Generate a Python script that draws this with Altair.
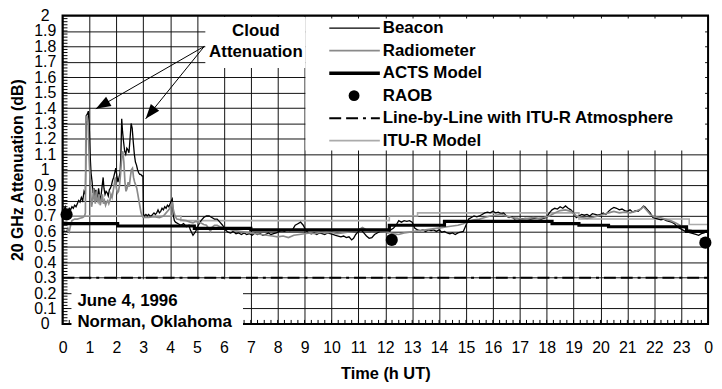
import math
import altair as alt
import pandas as pd

# ---------------- data ----------------
beacon_t = [0.00, 0.05, 0.10, 0.15, 0.20, 0.25, 0.30, 0.35, 0.40, 0.45, 0.50, 0.55, 0.60, 0.65, 0.70, 0.75, 0.80, 0.85,
            0.88, 0.92, 0.96, 1.00, 1.03, 1.06, 1.10, 1.13, 1.17, 1.20, 1.24, 1.27, 1.30, 1.34, 1.37, 1.40, 1.43, 1.47,
            1.51, 1.54, 1.58, 1.62, 1.66, 1.70, 1.74, 1.78, 1.82, 1.86, 1.90, 1.94, 1.98, 2.02, 2.06, 2.10, 2.14, 2.17,
            2.20, 2.23, 2.27, 2.31, 2.35, 2.39, 2.43, 2.47, 2.51, 2.55, 2.59, 2.63, 2.67, 2.71, 2.75, 2.79, 2.83, 2.87,
            2.91, 2.95, 2.99, 3.01, 3.05, 3.10, 3.15, 3.20, 3.25, 3.30, 3.35, 3.40, 3.45, 3.50, 3.55, 3.60, 3.65, 3.70,
            3.75, 3.80, 3.85, 3.90, 3.95, 4.00, 4.05, 4.08, 4.12, 4.16, 4.20, 4.30, 4.40, 4.50, 4.60, 4.70, 4.75, 4.85,
            4.95, 5.05, 5.15, 5.25, 5.35, 5.45, 5.55, 5.65, 5.75, 5.85, 5.95, 6.05, 6.15, 6.25, 6.35, 6.45, 6.55, 6.65,
            6.75, 6.85, 6.95, 7.05, 7.15, 7.25, 7.35, 7.45, 7.55, 7.65, 7.75, 7.85, 7.95, 8.05, 8.15, 8.25, 8.35, 8.45,
            8.55, 8.65, 8.75, 8.85, 8.95, 9.05, 9.15, 9.25, 9.35, 9.45, 9.55, 9.65, 9.75, 9.85, 9.95, 10.05, 10.15,
            10.25, 10.35, 10.45, 10.55, 10.65, 10.75, 10.82, 10.90, 11.00, 11.10, 11.20, 11.30, 11.40, 11.50, 11.60,
            11.70, 11.80, 11.90, 12.00, 12.10, 12.20, 12.30, 12.40, 12.50, 12.60, 12.70, 12.80, 12.90, 13.00, 13.10,
            13.20, 13.30, 13.40, 13.50, 13.60, 13.70, 13.80, 13.90, 14.00, 14.10, 14.20, 14.30, 14.40, 14.50, 14.60,
            14.70, 14.80, 14.90, 15.00, 15.10, 15.20, 15.30, 15.40, 15.50, 15.60, 15.70, 15.80, 15.90, 16.00, 16.10,
            16.20, 16.30, 16.40, 16.50, 16.60, 16.70, 16.80, 16.90, 17.00, 17.20, 17.40, 17.60, 17.80, 18.00, 18.10,
            18.20, 18.30, 18.40, 18.50, 18.60, 18.70, 18.80, 18.90, 19.00, 19.10, 19.20, 19.30, 19.40, 19.50, 19.60,
            19.70, 19.80, 19.90, 20.00, 20.10, 20.20, 20.30, 20.40, 20.50, 20.60, 20.70, 20.80, 20.90, 21.00, 21.10,
            21.20, 21.30, 21.40, 21.50, 21.60, 21.65, 21.75, 21.85, 21.95, 22.05, 22.15, 22.25, 22.35, 22.45, 22.55,
            22.65, 22.75, 22.85, 22.95, 23.05, 23.15, 23.25, 23.35, 23.45, 23.55, 23.65, 23.75, 23.85, 23.95, 24.00]
beacon_v = [0.71, 0.74, 0.76, 0.72, 0.73, 0.75, 0.74, 0.76, 0.75, 0.77, 0.76, 0.78, 0.80, 0.79, 0.82, 0.80, 0.86, 0.84,
            1.35, 1.36, 1.38, 1.25, 1.08, 0.98, 0.92, 0.85, 0.88, 0.83, 0.87, 0.80, 0.82, 0.88, 0.84, 0.80, 0.83, 0.89,
            0.95, 0.88, 0.84, 0.86, 0.85, 0.83, 0.87, 0.88, 0.90, 0.93, 0.95, 0.98, 1.01, 0.96, 0.92, 0.95, 0.98, 1.10,
            1.33, 1.25, 1.18, 1.12, 1.10, 1.14, 1.13, 1.11, 1.20, 1.30, 1.27, 1.18, 1.10, 1.05, 1.03, 1.00, 0.98, 0.97,
            0.97, 0.96, 0.96, 0.71, 0.70, 0.71, 0.70, 0.71, 0.70, 0.70, 0.71, 0.72, 0.71, 0.72, 0.74, 0.72, 0.73, 0.75,
            0.74, 0.76, 0.75, 0.77, 0.76, 0.78, 0.80, 0.81, 0.70, 0.67, 0.66, 0.65, 0.64, 0.65, 0.63, 0.64, 0.61, 0.575,
            0.60, 0.64, 0.67, 0.69, 0.70, 0.70, 0.69, 0.68, 0.68, 0.66, 0.64, 0.61, 0.595, 0.59, 0.60, 0.585, 0.59, 0.58,
            0.59, 0.58, 0.585, 0.575, 0.59, 0.58, 0.585, 0.575, 0.58, 0.59, 0.58, 0.585, 0.59, 0.60, 0.605, 0.60, 0.61,
            0.605, 0.61, 0.64, 0.65, 0.66, 0.64, 0.605, 0.59, 0.585, 0.59, 0.58, 0.59, 0.585, 0.58, 0.59, 0.585, 0.58,
            0.575, 0.57, 0.565, 0.57, 0.56, 0.565, 0.545, 0.555, 0.58, 0.60, 0.61, 0.59, 0.57, 0.555, 0.56, 0.58,
            0.59, 0.60, 0.605, 0.60, 0.59, 0.61, 0.62, 0.64, 0.67, 0.66, 0.67, 0.665, 0.67, 0.66, 0.62,
            0.61, 0.605, 0.61, 0.60, 0.61, 0.605, 0.61, 0.60, 0.61, 0.595, 0.60, 0.59, 0.585, 0.59, 0.58,
            0.59, 0.595, 0.60, 0.64, 0.68, 0.69, 0.70, 0.695, 0.70, 0.71, 0.72, 0.725, 0.72, 0.73, 0.72,
            0.725, 0.715, 0.72, 0.70, 0.69, 0.695, 0.68, 0.685, 0.68, 0.685, 0.68, 0.685, 0.68, 0.69, 0.72,
            0.74, 0.75, 0.745, 0.76, 0.75, 0.765, 0.75, 0.74, 0.72, 0.69, 0.70, 0.71, 0.705, 0.71, 0.70,
            0.715, 0.71, 0.705, 0.71, 0.72, 0.71, 0.73, 0.745, 0.755, 0.75, 0.74, 0.745, 0.735, 0.73, 0.74,
            0.725, 0.735, 0.73, 0.745, 0.765, 0.76, 0.74, 0.72, 0.69, 0.685, 0.68, 0.675, 0.68, 0.67, 0.665,
            0.66, 0.65, 0.63, 0.62, 0.61, 0.60, 0.595, 0.59, 0.585, 0.58, 0.575, 0.585, 0.59, 0.60, 0.605]

radio_t = [0.00, 0.05, 0.10, 0.15, 0.20, 0.25, 0.30, 0.35, 0.45, 0.55, 0.65, 0.75, 0.82, 0.85, 0.87, 0.91, 0.95, 0.99,
           1.02, 1.05, 1.08, 1.12, 1.15, 1.18, 1.22, 1.25, 1.29, 1.32, 1.36, 1.40, 1.44, 1.48, 1.52, 1.56, 1.60, 1.64,
           1.68, 1.72, 1.76, 1.80, 1.84, 1.88, 1.92, 1.96, 2.00, 2.04, 2.08, 2.12, 2.16, 2.20, 2.24, 2.28, 2.32, 2.36,
           2.40, 2.44, 2.48, 2.52, 2.56, 2.60, 2.64, 2.68, 2.72, 2.76, 2.80, 2.84, 2.88, 2.92, 2.96, 3.00, 3.20, 3.40,
           3.60, 3.75, 3.85, 3.95, 4.02, 4.08, 4.12, 4.18, 4.25, 4.40, 4.60, 4.75, 4.85, 4.95, 5.05, 5.15, 5.25, 5.35,
           5.45, 5.50, 5.55, 5.65, 5.75, 5.85, 5.95, 6.05, 6.20, 6.40, 6.60, 6.80, 7.00, 7.20, 7.40, 7.60, 7.80, 8.00,
           8.20, 8.40, 8.60, 8.80, 9.00, 9.20, 9.40, 9.60, 9.80, 10.00, 10.20, 10.40, 10.60, 10.80, 11.00, 11.15,
           11.30, 11.50, 11.70, 11.90, 12.10, 12.30, 12.50, 12.70, 12.90, 13.10, 13.30, 13.50, 13.70, 13.90, 14.10,
           14.30, 14.50, 14.70, 14.90, 15.10, 15.30, 15.50, 15.70, 15.90, 16.10, 16.30, 16.50, 16.70, 16.90, 17.10,
           17.30, 17.50, 17.70, 17.90, 18.10, 18.30, 18.50, 18.70, 18.90, 19.10, 19.30, 19.50, 19.70, 19.90, 20.10,
           20.30, 20.50, 20.70, 20.90, 21.10, 21.30, 21.50, 21.60, 21.70, 21.85, 22.00, 22.20, 22.40, 22.60, 22.80,
           23.00, 23.20, 23.40, 23.60, 23.80, 24.00]
radio_v = [0.63, 0.61, 0.59, 0.60, 0.62, 0.60, 0.64, 0.67, 0.68, 0.68, 0.685, 0.69, 0.70, 0.72, 1.33, 1.35, 1.30, 1.07,
           0.95, 0.84, 0.76, 0.80, 0.88, 0.82, 0.78, 0.86, 0.80, 0.79, 0.84, 0.77, 0.80, 0.84, 0.78, 0.80, 0.77, 0.79,
           0.80, 0.78, 0.80, 0.84, 0.82, 0.86, 0.90, 0.95, 0.88, 0.85, 0.86, 0.90, 0.98, 1.08, 1.12, 1.05, 0.92, 0.86,
           0.88, 0.92, 0.89, 0.95, 1.00, 1.01, 0.95, 0.92, 0.90, 0.88, 0.84, 0.80, 0.76, 0.72, 0.70, 0.69, 0.69, 0.695,
           0.69, 0.70, 0.72, 0.74, 0.76, 0.79, 0.74, 0.70, 0.68, 0.675, 0.67, 0.66, 0.655, 0.665, 0.66, 0.655, 0.645, 0.64,
           0.615, 0.60, 0.625, 0.64, 0.64, 0.63, 0.625, 0.62, 0.615, 0.605, 0.60, 0.595, 0.59, 0.585, 0.58, 0.575, 0.57, 0.565,
           0.57, 0.56, 0.575, 0.58, 0.585, 0.59, 0.585, 0.595, 0.59, 0.595, 0.585, 0.59, 0.595, 0.60, 0.61, 0.625,
           0.61, 0.60, 0.605, 0.60, 0.595, 0.585, 0.58, 0.59, 0.595, 0.60, 0.605, 0.61, 0.615, 0.62, 0.625,
           0.63, 0.635, 0.64, 0.65, 0.665, 0.675, 0.68, 0.69, 0.70, 0.705, 0.71, 0.70, 0.69, 0.685, 0.68,
           0.685, 0.69, 0.685, 0.69, 0.70, 0.72, 0.735, 0.74, 0.73, 0.70, 0.69, 0.685, 0.69, 0.70, 0.71,
           0.72, 0.73, 0.72, 0.725, 0.72, 0.73, 0.745, 0.76, 0.74, 0.71, 0.695, 0.69, 0.68, 0.67, 0.655,
           0.635, 0.615, 0.605, 0.60, 0.595, 0.60]

acts_t = [0, 2.05, 4.9, 7.0, 12.15, 14.2, 18.2, 19.2, 20.3, 23.2, 24]
acts_v = [0.65, 0.635, 0.62, 0.61, 0.64, 0.665, 0.65, 0.64, 0.63, 0.60, 0.60]

itu_t = [0, 4.4, 12.15, 13.2, 19.2, 23.3, 24]
itu_v = [0.70, 0.67, 0.70, 0.72, 0.68, 0.645, 0.645]

raob_t = [0.15, 12.24, 23.9]
raob_v = [0.71, 0.545, 0.527]

lbl_t = [0, 24]
lbl_v = [0.30, 0.30]

x_ticks = list(range(25))
y_ticks = [round(i * 0.1, 1) for i in range(21)]
x_minor = [i * 0.25 for i in range(97)]
y_minor = [round(i * 0.02, 2) for i in range(101)]

legend_labels = ["Beacon", "Radiometer", "ACTS Model", "RAOB",
                 "Line-by-Line with ITU-R Atmosphere", "ITU-R Model"]
note_lines = ["Cloud", "Attenuation"]
site_lines = ["June 4, 1996", "Norman, Oklahoma"]
arrow_from = (5.27, 1.80)
arrow_tips = [(1.24, 1.395), (3.09, 1.33)]

# ---------------- layout ----------------
TOP = 6
W, H = 651, 311
FONT = "Liberation Sans"
XS = alt.Scale(domain=[0, 24], nice=False, zero=False)
YS = alt.Scale(domain=[0, 2], nice=False, zero=False)
px_per_h = W / 24.0
px_per_v = H / 2.0
X_TITLE = "Time (h UT)"
Y_TITLE = "20 GHz Attenuation (dB)"


def ry(abs_y):
    # page pixel row -> plot-relative row
    return abs_y - 8 - TOP


AX = alt.Axis(values=x_ticks, grid=True, gridColor="#111", gridWidth=1, gridOpacity=1,
              domain=False, ticks=False, tickSize=0, labelPadding=24, labelBaseline="middle",
              labelExpr="'' + (datum.value % 24)", labelFlush=False, labelOverlap=False,
              labelFontSize=16, labelFont=FONT, labelColor="black",
              titleFont=FONT, titleFontSize=16.5, titleFontWeight="bold", titleColor="black",
              titleX=W / 2, titleY=50, titleBaseline="middle", titleAnchor="middle")
AY = alt.Axis(values=y_ticks, grid=True, gridColor="#111", gridWidth=1, gridOpacity=1,
              domain=False, ticks=False, tickSize=0, labelPadding=18, labelAlign="center",
              labelBaseline="middle", format=".1~f", labelFlush=False, labelOverlap=False,
              labelFontSize=16, labelFont=FONT, labelColor="black",
              titleFont=FONT, titleFontSize=16, titleFontWeight="bold", titleColor="black",
              titleX=-45, titleY=H / 2, titleBaseline="middle", titleAlign="center",
              titleAngle=270)


def X(f="t"):
    return alt.X(f + ":Q", scale=XS, axis=AX, title=X_TITLE)


def Y(f="v"):
    return alt.Y(f + ":Q", scale=YS, axis=AY, title=Y_TITLE)


def line_df(t, v):
    return pd.DataFrame({"t": t, "v": v})


one = pd.DataFrame({"k": [0]})

itu = alt.Chart(line_df(itu_t, itu_v)).mark_line(color="#ababab", strokeWidth=1.6,
                                                 interpolate="step-after").encode(x=X(), y=Y())
beacon = alt.Chart(line_df(beacon_t, beacon_v)).mark_line(color="black", strokeWidth=1.3).encode(x=X(), y=Y())
radio = alt.Chart(line_df(radio_t, radio_v)).mark_line(color="#8a8a8a", strokeWidth=1.7).encode(x=X(), y=Y())
acts = alt.Chart(line_df(acts_t, acts_v)).mark_line(color="black", strokeWidth=3.2,
                                                    interpolate="step-after").encode(x=X(), y=Y())
lbl = alt.Chart(line_df(lbl_t, lbl_v)).mark_line(color="black", strokeWidth=2,
                                                 strokeDash=[12, 5, 12, 5, 3, 5]).encode(x=X(), y=Y())
raob = alt.Chart(line_df(raob_t, raob_v)).mark_circle(color="black", size=150, opacity=1).encode(x=X(), y=Y())

xminor = alt.Chart(pd.DataFrame({"t": x_minor})).mark_rule(color="black", strokeWidth=1).encode(
    x=X(), y=alt.value(H), y2=alt.value(H - 4))

frame = alt.Chart(one).mark_rect(fill="white", fillOpacity=0, stroke="black", strokeWidth=2).encode(
    x=alt.value(0), x2=alt.value(W), y=alt.value(0), y2=alt.value(H))


def box(x0, x1, y0, y1):
    return alt.Chart(one).mark_rect(fill="white", strokeWidth=0).encode(
        x=alt.value(x0), x2=alt.value(x1), y=alt.value(y0), y2=alt.value(y1))


cloud_box = box(144, 245, 1.5, ry(67))
legend_box = box(245, W - 3, 3, ry(150))
site_box = box(9, 182, ry(280), H + 3)

yminor = alt.Chart(pd.DataFrame({"v": y_minor})).mark_rule(color="black", strokeWidth=1).encode(
    y=Y(), x=alt.value(0), x2=alt.value(5))


def text_at(s, x, y, align="left", size=17):
    return alt.Chart(one).mark_text(text=s, align=align, baseline="middle", font=FONT, fontSize=size,
                                    fontWeight="bold", color="black").encode(x=alt.value(x), y=alt.value(y))


texts = [text_at(note_lines[0], 195, ry(29.5), "center"), text_at(note_lines[1], 195, ry(51), "center"),
         text_at(site_lines[0], 15, ry(302)), text_at(site_lines[1], 15, ry(323.5))]

# arrows
arrow_rows = []
for (th, tv) in arrow_tips:
    dx = (th - arrow_from[0]) * px_per_h
    dy = -(tv - arrow_from[1]) * px_per_v
    ang = math.degrees(math.atan2(dx, -dy)) % 360
    arrow_rows.append({"t": arrow_from[0], "v": arrow_from[1], "t2": th, "v2": tv, "ang": ang})
arrow_df = pd.DataFrame(arrow_rows)
arrow_lines = alt.Chart(arrow_df).mark_rule(color="black", strokeWidth=1).encode(
    x=X("t"), y=Y("v"), x2="t2:Q", y2="v2:Q")
arrow_heads = alt.Chart(arrow_df).mark_point(shape="M0,0L-0.36,1L0.36,1Z", filled=True, color="black",
                                             size=900, opacity=1, strokeWidth=0).encode(
    x=X("t2"), y=Y("v2"), angle=alt.Angle("ang:Q", scale=None))

# legend
LY0, LDY = ry(26.7), 22.7
SX0, SX1, TX = 269, 320, 323
leg = []
styles = [dict(color="black", strokeWidth=1.5), dict(color="#8a8a8a", strokeWidth=1.8),
          dict(color="black", strokeWidth=3.5), None,
          dict(color="black", strokeWidth=2, strokeDash=[12, 5, 12, 5, 3, 5]),
          dict(color="#ababab", strokeWidth=1.8)]
for i, lab in enumerate(legend_labels):
    y = LY0 + i * LDY
    st = styles[i]
    if st is None:
        leg.append(alt.Chart(one).mark_circle(color="black", size=120, opacity=1).encode(
            x=alt.value(294), y=alt.value(y)))
    else:
        leg.append(alt.Chart(one).mark_rule(**st).encode(
            x=alt.value(SX0), x2=alt.value(SX1), y=alt.value(y)))
    leg.append(text_at(lab, TX, y))

chart = alt.layer(
    itu, beacon, radio, acts, lbl, raob, xminor, frame,
    cloud_box, legend_box, site_box, yminor, *texts, arrow_lines, arrow_heads, *leg
).properties(
    width=W, height=H, autosize="none",
    padding={"left": 55, "top": TOP, "right": 6, "bottom": 60},
).configure_view(strokeWidth=0).configure(background="white")

chart.save("out.html", embed_options={"renderer": "svg", "actions": False})
